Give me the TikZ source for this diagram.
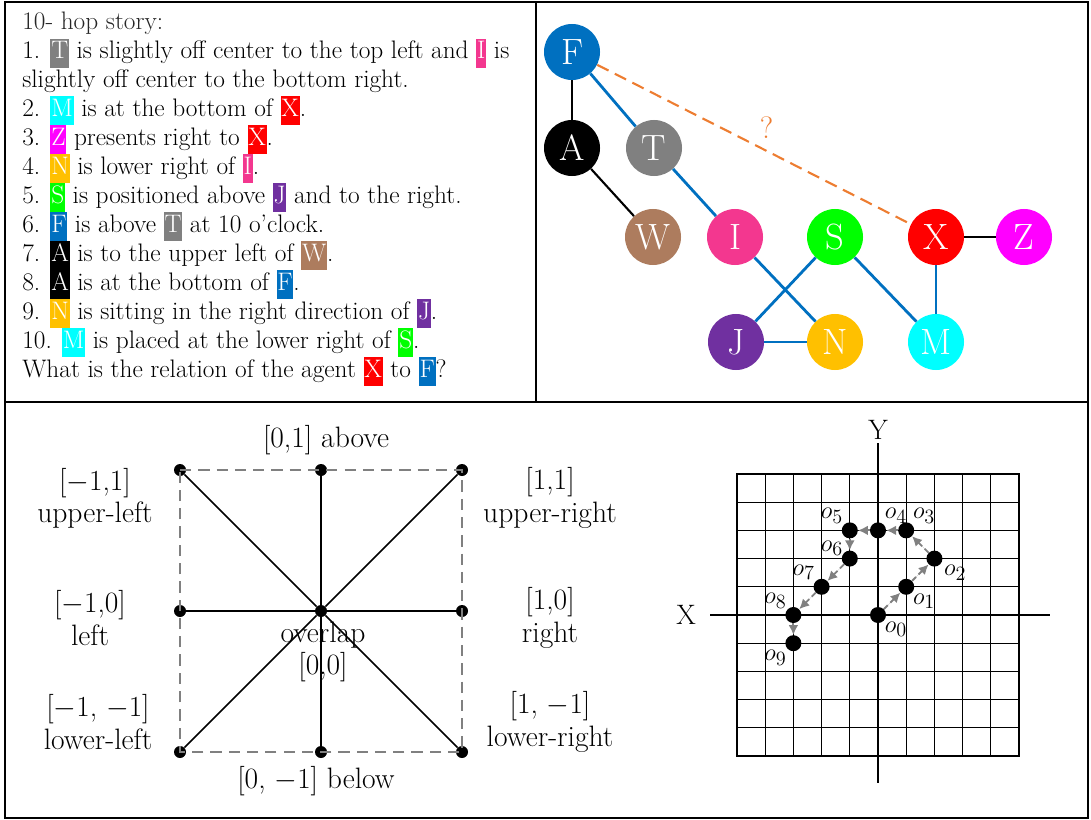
\documentclass[tikz,border=0pt]{standalone}
\usepackage{xcolor}
\usepackage{tikz}
\usetikzlibrary{arrows.meta, positioning}
\definecolor{agentF}{RGB}{0,112,192}
\definecolor{agentT}{RGB}{128,128,128}
\definecolor{agentW}{RGB}{173,124,94}
\definecolor{agentI}{RGB}{243,55,143}
\definecolor{agentS}{RGB}{0,255,0}
\definecolor{agentX}{RGB}{255,0,0}
\definecolor{agentZ}{RGB}{255,0,255}
\definecolor{agentJ}{RGB}{112,48,160}
\definecolor{agentN}{RGB}{255,192,0}
\definecolor{agentM}{RGB}{0,255,255}
\definecolor{qorange}{RGB}{237,125,49}
\newcommand{\agt}[2]{{\setlength{\fboxsep}{0pt}\colorbox{#1}{\strut\kern0.6pt\textcolor{white}{#2}\kern0.6pt}}}
\tikzstyle{agent} = [circle, minimum size=1.4cm, inner sep=0pt, text=white, font=\fontsize{26}{30}\selectfont]
\tikzstyle{blueline} = [line width=2pt, draw=agentF]
\tikzstyle{blackline} = [line width=1.5pt, draw=black]
\tikzstyle{query} = [line width=1.5pt, draw=qorange, dash pattern=on 9pt off 5pt]
\tikzstyle{dirdot} = [circle, fill=black, inner sep=0pt, minimum size=0.3cm]
\tikzstyle{dirlabel} = [align=center, font=\fontsize{21}{23}\selectfont]
\tikzstyle{gridpt} = [circle, fill=black, inner sep=0pt, minimum size=0.4cm]
\tikzstyle{trail} = [line width=1.3pt, draw=gray, dash pattern=on 4pt off 2.5pt, -{Latex[length=7pt,width=7pt]}, fill=gray]
\tikzstyle{olabel} = [font=\fontsize{19}{21}\selectfont, inner sep=0.5pt]

\begin{document}
\begin{tikzpicture}[x=0.025cm, y=-0.025cm]
    \useasboundingbox (0,0) rectangle (1091,820);
    % panels
    \draw [line width=1.5pt] (5,2) rectangle (1088,818);
    \draw [line width=1.5pt] (536,2) -- (536,402);
    \draw [line width=1.5pt] (5,402) -- (1088,402);

    % story text
    \node (story) [anchor=north west, align=left, inner sep=0pt, font=\fontsize{18}{20.6}\selectfont] at (22,12) {%
        {\color{black!85}10- hop story:}\\
        1. \agt{agentT}{T} is slightly off center to the top left and \agt{agentI}{I} is\\
        slightly off center to the bottom right.\\
        2. \agt{agentM}{M} is at the bottom of \agt{agentX}{X}.\\
        3. \agt{agentZ}{Z} presents right to \agt{agentX}{X}.\\
        4. \agt{agentN}{N} is lower right of \agt{agentI}{I}.\\
        5. \agt{agentS}{S} is positioned above \agt{agentJ}{J} and to the right.\\
        6. \agt{agentF}{F} is above \agt{agentT}{T} at 10 o'clock.\\
        7. \agt{black}{A} is to the upper left of \agt{agentW}{W}.\\
        8. \agt{black}{A} is at the bottom of \agt{agentF}{F}.\\
        9. \agt{agentN}{N} is sitting in the right direction of \agt{agentJ}{J}.\\
        10. \agt{agentM}{M} is placed at the lower right of \agt{agentS}{S}.\\
        What is the relation of the agent \agt{agentX}{X} to \agt{agentF}{F}?};

    % agent graph
    \node (F) [agent, fill=agentF] at (572,52) {F};
    \node (A) [agent, fill=black] at (572,148) {A};
    \node (T) [agent, fill=agentT] at (654,148) {T};
    \node (W) [agent, fill=agentW] at (653,237) {W};
    \node (I) [agent, fill=agentI] at (735,237) {I};
    \node (S) [agent, fill=agentS] at (835,237) {S};
    \node (X) [agent, fill=agentX] at (936,237) {X};
    \node (Z) [agent, fill=agentZ] at (1024,237) {Z};
    \node (J) [agent, fill=agentJ] at (736,342) {J};
    \node (N) [agent, fill=agentN] at (835,342) {N};
    \node (M) [agent, fill=agentM] at (936,342) {M};

    \draw [blackline] (F) -- (A);
    \draw [blackline] (A) -- (W);
    \draw [blackline] (X) -- (Z);
    \draw [blueline] (F) -- (T);
    \draw [blueline] (T) -- (I);
    \draw [blueline] (I) -- (N);
    \draw [blueline] (S) -- (J);
    \draw [blueline] (J) -- (N);
    \draw [blueline] (S) -- (M);
    \draw [blueline] (X) -- (M);
    \draw [query] (F) -- node[above, pos=0.54, text=qorange, font=\fontsize{22}{24}\selectfont, yshift=5pt] {?} (X);

    % direction square
    \node (c) [dirdot] at (321,611) {};
    \node (nw) [dirdot] at (180,470) {};
    \node (n) [dirdot] at (321,470) {};
    \node (ne) [dirdot] at (462,470) {};
    \node (e) [dirdot] at (462,611) {};
    \node (se) [dirdot] at (462,752) {};
    \node (s) [dirdot] at (321,752) {};
    \node (sw) [dirdot] at (180,752) {};
    \node (w) [dirdot] at (180,611) {};
    \draw [line width=1.8pt, draw=gray, dash pattern=on 8pt off 5pt] (nw.center) -- (ne.center) -- (se.center) -- (sw.center) -- cycle;
    \foreach \d in {nw,n,ne,e,se,s,sw,w}
        \draw [line width=1.2pt] (c) -- (\d);

    \node (lab-n) [dirlabel] at (326,440) {[0,1] above};
    \node (lab-nw) [dirlabel] at (95,498) {[$-1$,1]\\upper-left};
    \node (lab-ne) [dirlabel] at (550,498) {[1,1]\\upper-right};
    \node (lab-w) [dirlabel] at (90,618) {[$-1$,0]\\left};
    \node (lab-e) [dirlabel] at (550,618) {[1,0]\\right};
    \node (lab-c) [dirlabel] at (323,652) {overlap\\{[0,0]}};
    \node (lab-sw) [dirlabel] at (98,722) {[$-1$, $-1$]\\lower-left};
    \node (lab-se) [dirlabel] at (550,722) {[1, $-1$]\\lower-right};
    \node (lab-s) [dirlabel] at (316,781) {[0, $-1$] below};

    % coordinate grid
    \begin{scope}[shift={(878,615)}, x=0.705cm, y=0.705cm]
        \foreach \k in {-4,...,4} {
            \draw [line width=0.8pt] (\k,-5) -- (\k,5);
            \draw [line width=0.8pt] (-5,\k) -- (5,\k);
        }
        \draw [line width=1.3pt] (-5,-5) rectangle (5,5);
        \draw [line width=1.5pt] (-5.95,0) -- (6.1,0);
        \draw [line width=1.5pt] (0,-5.95) -- (0,6.1);
        \node (xlab) [font=\fontsize{20}{22}\selectfont] at (-6.8,0) {X};
        \node (ylab) [font=\fontsize{20}{22}\selectfont] at (0,6.55) {Y};

        \node (o0) [gridpt, label={[olabel]below right:$o_0$}] at (0,0) {};
        \node (o1) [gridpt, label={[olabel]below right:$o_1$}] at (1,1) {};
        \node (o2) [gridpt, label={[olabel, xshift=2pt]below right:$o_2$}] at (2,2) {};
        \node (o3) [gridpt, label={[olabel]above right:$o_3$}] at (1,3) {};
        \node (o4) [gridpt, label={[olabel]above right:$o_4$}] at (0,3) {};
        \node (o5) [gridpt, label={[olabel]above left:$o_5$}] at (-1,3) {};
        \node (o6) [gridpt, label={[olabel, yshift=-3pt]above left:$o_6$}] at (-1,2) {};
        \node (o7) [gridpt, label={[olabel]above left:$o_7$}] at (-2,1) {};
        \node (o8) [gridpt, label={[olabel]above left:$o_8$}] at (-3,0) {};
        \node (o9) [gridpt, label={[olabel]below left:$o_9$}] at (-3,-1) {};
        \foreach \a/\b in {o0/o1,o1/o2,o2/o3,o3/o4,o4/o5,o5/o6,o6/o7,o7/o8,o8/o9}
            \draw [trail] (\a) -- (\b);
    \end{scope}
\end{tikzpicture}
\end{document}
